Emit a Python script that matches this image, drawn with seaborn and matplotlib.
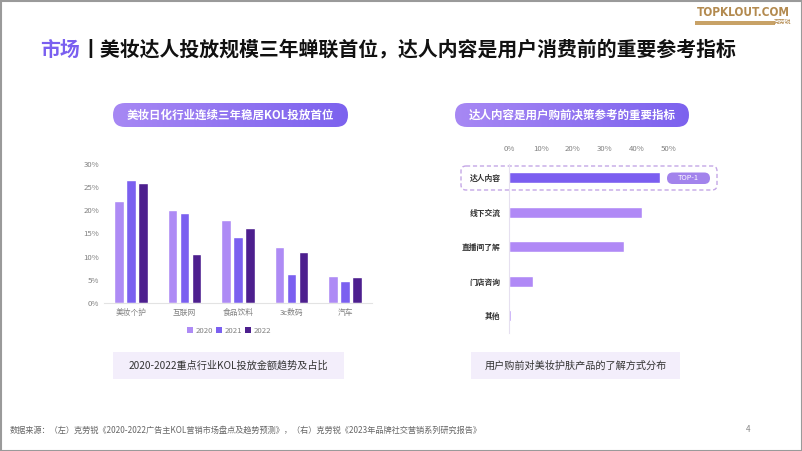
import numpy as np
import pandas as pd
import matplotlib
matplotlib.use("Agg")
import matplotlib.pyplot as plt
import seaborn as sns
from matplotlib.patches import FancyBboxPatch, Rectangle, Patch
from matplotlib.colors import LinearSegmentedColormap

# ---------------- data ----------------
industries = ["美妆个护", "互联网", "食品饮料", "3c数码", "汽车"]
years = ["2020", "2021", "2022"]
share_2020 = [22.0, 20.0, 18.0, 12.0, 5.9]
share_2021 = [26.5, 19.5, 14.3, 6.4, 4.7]
share_2022 = [25.9, 10.7, 16.1, 11.0, 5.6]
left_yticks = [0, 5, 10, 15, 20, 25, 30]

channels = ["达人内容", "线下交流", "直播间了解", "门店咨询", "其他"]
channel_share = [47.3, 41.6, 35.9, 7.5, 0.6]
right_xticks = [0, 10, 20, 30, 40, 50]

title_tag = "市场"
title_main = "丨美妆达人投放规模三年蝉联首位，达人内容是用户消费前的重要参考指标"
left_heading = "美妆日化行业连续三年稳居KOL投放首位"
right_heading = "达人内容是用户购前决策参考的重要指标"
left_caption = "2020-2022重点行业KOL投放金额趋势及占比"
right_caption = "用户购前对美妆护肤产品的了解方式分布"
footer = "数据来源：（左）克劳锐《2020-2022广告主KOL营销市场盘点及趋势预测》，（右）克劳锐《2023年品牌社交营销系列研究报告》"

# ---------------- style ----------------
sns.set_theme(style="white")
plt.rcParams["font.family"] = ["Noto Sans CJK SC", "DejaVu Sans"]

W, H = 802, 451
fig = plt.figure(figsize=(W / 100, H / 100), dpi=100)
fig.patch.set_facecolor("white")

# pixel overlay axes
bg = fig.add_axes([0, 0, 1, 1], zorder=0)
bg.set_xlim(0, W)
bg.set_ylim(H, 0)
bg.axis("off")

def px_axes(x0, y0, x1, y1, z=2):
    return fig.add_axes([x0 / W, 1 - y1 / H, (x1 - x0) / W, (y1 - y0) / H], zorder=z)

# frame border
bg.add_patch(Rectangle((0.5, 0.5), W - 1, H - 1, fill=False, ec="#9a9a9a", lw=1.5))

# logo
bg.text(743, 13, "TOPKLOUT.COM", color="#b38a4f", fontsize=8.5, fontweight="bold",
        ha="center", va="center", family=["DejaVu Sans"], fontstretch="condensed")
bg.add_patch(Rectangle((695, 20.5), 80, 4.5, color="#c8a267", lw=0))
bg.text(783, 22.8, "克劳锐", fontsize=4.2, color="#b38a4f", ha="center", va="center")

# title
t1 = bg.text(40, 49, title_tag, color="#7a5ff0", fontsize=14.3, va="center", ha="left",
             fontweight="bold")
fig.canvas.draw()
bb = t1.get_window_extent()
bg.text(40 + bb.width + 1, 49, title_main, color="#111111", fontsize=14.3, va="center",
        ha="left", fontweight="bold")

# gradient pills
cmap = LinearSegmentedColormap.from_list("pill", ["#a788f4", "#7c62ee"])
grad = np.linspace(0, 1, 256).reshape(1, -1)

def pill(x0, x1, y0, y1, text):
    p = FancyBboxPatch((x0, y0), x1 - x0, y1 - y0,
                       boxstyle=f"round,pad=0,rounding_size={(y1 - y0) / 2}",
                       fc="none", ec="none")
    bg.add_patch(p)
    im = bg.imshow(grad, cmap=cmap, extent=(x0, x1, y1, y0), aspect="auto", zorder=1)
    im.set_clip_path(p)
    bg.text((x0 + x1) / 2, (y0 + y1) / 2, text, color="white", fontsize=8.3,
            fontweight="bold", ha="center", va="center", zorder=2)

pill(113, 348, 103, 127, left_heading)
pill(455, 689, 103, 127, right_heading)
bg.set_xlim(0, W)
bg.set_ylim(H, 0)

# captions
for (x0, x1, txt) in [(113, 344, left_caption), (471, 680, right_caption)]:
    bg.add_patch(Rectangle((x0, 352), x1 - x0, 27, fc="#f3eefb", ec="none"))
    bg.text((x0 + x1) / 2, 366, txt, fontsize=7.3, color="#333333", ha="center", va="center")

# footer
bg.text(10, 430, footer, fontsize=5.9, color="#666666", ha="left", va="center")
bg.text(748, 430, "4", fontsize=5.9, color="#888888", ha="center", va="center")

# ---------------- left chart ----------------
df_left = pd.DataFrame({
    "industry": industries * 3,
    "year": sum([[y] * len(industries) for y in years], []),
    "share": share_2020 + share_2021 + share_2022,
})
pal_left = ["#ae8bf5", "#7b60f0", "#4d1f8e"]
ax1 = px_axes(104, 163.7, 372, 303.3)
ax1.patch.set_alpha(0)
sns.barplot(data=df_left, x="industry", y="share", hue="year", palette=pal_left,
            width=0.675, gap=0.2, ax=ax1, saturation=1, errorbar=None)
ax1.set_ylim(0, 30)
ax1.set_xlim(-0.5, 4.5)
ax1.set_yticks(left_yticks)
ax1.set_yticklabels([f"{v}%" for v in left_yticks])
ax1.set_xlabel("")
ax1.set_ylabel("")
for s in ["top", "right", "left"]:
    ax1.spines[s].set_visible(False)
ax1.spines["bottom"].set_color("#e3e3e3")
ax1.spines["bottom"].set_linewidth(0.8)
ax1.tick_params(axis="both", length=0, labelsize=5.6, colors="#808080", pad=4)
ax1.tick_params(axis="y", pad=3.6)
handles = [Patch(fc=c, ec="none") for c in pal_left]
ax1.legend(handles, years, loc="center", bbox_to_anchor=(0.466, -0.195), ncol=3,
           frameon=False, fontsize=5.6, handlelength=0.8, handleheight=0.8,
           handletextpad=0.3, columnspacing=0.4, labelcolor="#808080")

# ---------------- right chart ----------------
df_right = pd.DataFrame({"channel": channels, "share": channel_share})
pal_right = ["#7b5ef0"] + ["#b089f6"] * (len(channels) - 1)
ax2 = px_axes(509, 164, 701, 333)
ax2.patch.set_alpha(0)
sns.barplot(data=df_right, y="channel", x="share", hue="channel", palette=pal_right,
            orient="h", width=0.33, ax=ax2, saturation=1, legend=False, errorbar=None)
ax2.set_xlim(0, 60)
ax2.set_ylim(4.5, -0.4)
ax2.xaxis.tick_top()
ax2.set_xticks(right_xticks)
ax2.set_xticklabels([f"{v}%" for v in right_xticks])
ax2.set_xlabel("")
ax2.set_ylabel("")
for s in ["top", "right", "bottom"]:
    ax2.spines[s].set_visible(False)
ax2.spines["left"].set_color("#e6e0f0")
ax2.spines["left"].set_linewidth(0.8)
ax2.tick_params(axis="x", length=0, labelsize=5.6, colors="#808080", pad=8)
ax2.tick_params(axis="y", length=0, labelsize=5.6, colors="#333333", pad=6)
for lbl in ax2.get_yticklabels():
    lbl.set_fontweight("bold")

# dashed highlight + TOP-1 badge
bg.add_patch(FancyBboxPatch((461, 166), 256, 24,
                            boxstyle="round,pad=0,rounding_size=5",
                            fc="none", ec="#c4a6e6", lw=1.0, ls=(0, (3, 2)), zorder=3))
bg.add_patch(FancyBboxPatch((667, 172.5), 43, 11.5,
                            boxstyle="round,pad=0,rounding_size=5.75",
                            fc="#a283ec", ec="none", zorder=3))
bg.text(688.5, 178.3, "TOP-1", color="white", fontsize=5.3, ha="center", va="center", zorder=4)

fig.savefig("out.png", dpi=100)
